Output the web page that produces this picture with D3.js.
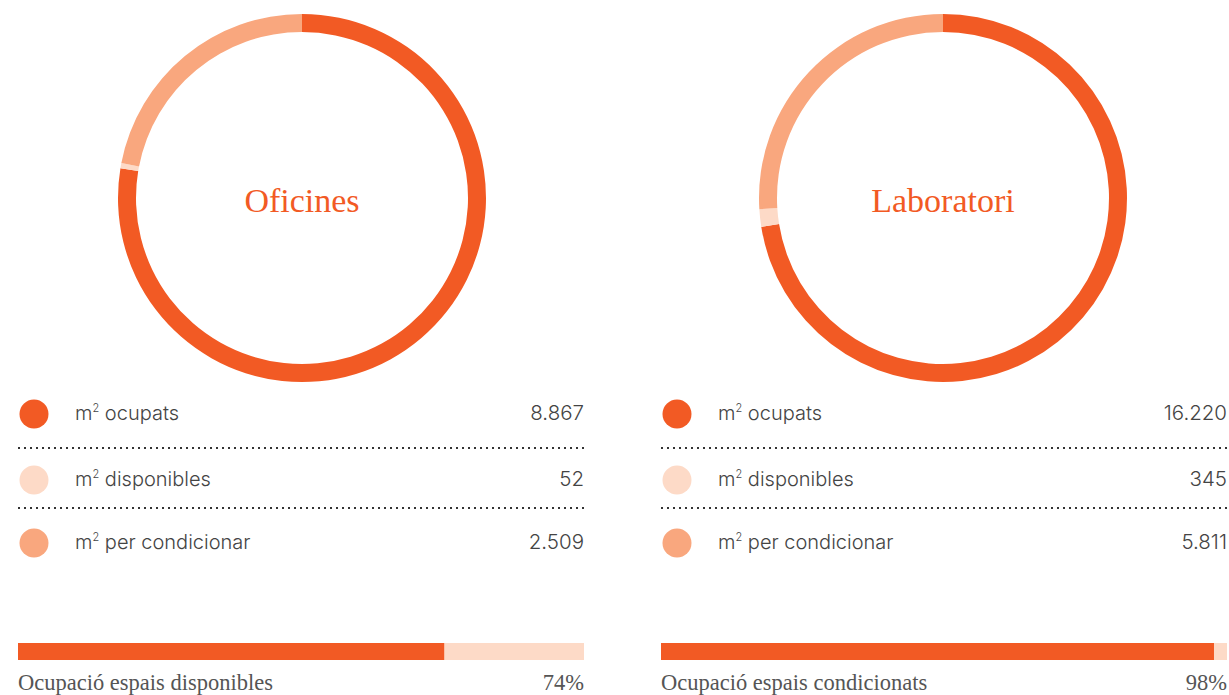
<!DOCTYPE html>
<html>
<head>
<meta charset="utf-8">
<script src="https://cdn.jsdelivr.net/npm/d3@7"></script>
<style>
  body { margin: 0; background: #fff; }
</style>
</head>
<body>
<script>
const width = 1229;
const height = 695;

const panelTitles = ['Oficines', 'Laboratori'];
const categories = ['ocupats', 'disponibles', 'per condicionar'];
const oficinesValues = [8867, 52, 2509];
const laboratoriValues = [16220, 345, 5811];
const valueLabels = [['8.867', '52', '2.509'], ['16.220', '345', '5.811']];
const barTitles = ['Ocupació espais disponibles', 'Ocupació espais condicionats'];
const barLabels = ['74%', '98%'];
const barShares = [75.3, 97.7];

const colors = ['#f25a24', '#fddac7', '#f9a77e'];
const panelX = [18, 661];
const centerX = [302, 943];
const panelWidth = 566;
const outerR = 184;
const innerR = 166;
const centerY = 198;
const sansFont = 'Inter, Roboto, sans-serif';
const serifFont = 'Liberation Serif, DejaVu Serif, serif';

const svg = d3.select('body')
              .append('svg')
              .attr('width', width)
              .attr('height', height);

const pie = d3.pie().sort(null).value(d => d);
const arc = d3.arc().innerRadius(innerR).outerRadius(outerR);

[oficinesValues, laboratoriValues].forEach((values, i) => {
  const x0 = panelX[i];
  const g = svg.append('g');

  // donut
  const donut = g.append('g').attr('transform', 'translate(' + centerX[i] + ',' + centerY + ')');
  donut.selectAll('path')
      .data(pie(values))
      .enter()
      .append('path')
      .attr('d', arc)
      .attr('fill', (d, j) => colors[j]);

  donut.append('text')
      .text(panelTitles[i])
      .attr('text-anchor', 'middle')
      .attr('y', 14)
      .attr('font-family', serifFont)
      .attr('font-size', 34)
      .attr('fill', '#f25a24');

  // legend
  const rowY = [414, 480, 543];
  const legend = g.selectAll('g.row')
      .data(categories)
      .enter()
      .append('g')
      .attr('transform', (d, j) => 'translate(0,' + rowY[j] + ')');

  legend.append('circle')
      .attr('cx', x0 + 16)
      .attr('cy', 0)
      .attr('r', 14.5)
      .attr('fill', (d, j) => colors[j]);

  const label = legend.append('text')
      .attr('x', x0 + 57)
      .attr('y', 6)
      .attr('font-family', sansFont)
      .attr('font-weight', 300)
      .attr('font-size', 20)
      .attr('fill', '#444');
  label.append('tspan').text('m');
  label.append('tspan').text('2').attr('font-size', 11).attr('dy', -8);
  label.append('tspan').text(d => ' ' + d).attr('dy', 8);

  legend.append('text')
      .text((d, j) => valueLabels[i][j])
      .attr('x', x0 + panelWidth)
      .attr('y', 6)
      .attr('text-anchor', 'end')
      .attr('font-family', sansFont)
      .attr('font-weight', 300)
      .attr('font-size', 20.5)
      .attr('fill', '#444');

  [448, 508].forEach(y => {
    g.append('line')
        .attr('x1', x0)
        .attr('x2', x0 + panelWidth)
        .attr('y1', y)
        .attr('y2', y)
        .attr('stroke', '#333')
        .attr('stroke-width', 2)
        .attr('stroke-dasharray', '2,4');
  });

  // occupancy bar
  const xScale = d3.scaleLinear().domain([0, 100]).range([x0, x0 + panelWidth]);
  g.append('rect')
      .attr('x', xScale(0))
      .attr('y', 643)
      .attr('width', xScale(100) - xScale(0))
      .attr('height', 17)
      .attr('fill', colors[1]);
  g.append('rect')
      .attr('x', xScale(0))
      .attr('y', 643)
      .attr('width', xScale(barShares[i]) - xScale(0))
      .attr('height', 17)
      .attr('fill', colors[0]);

  g.append('text')
      .text(barTitles[i])
      .attr('x', x0)
      .attr('y', 690)
      .attr('font-family', serifFont)
      .attr('font-size', 22.5)
      .attr('fill', '#555');
  g.append('text')
      .text(barLabels[i])
      .attr('x', x0 + panelWidth)
      .attr('y', 690)
      .attr('text-anchor', 'end')
      .attr('font-family', serifFont)
      .attr('font-size', 22.5)
      .attr('fill', '#555');
});
</script>
</body>
</html>
